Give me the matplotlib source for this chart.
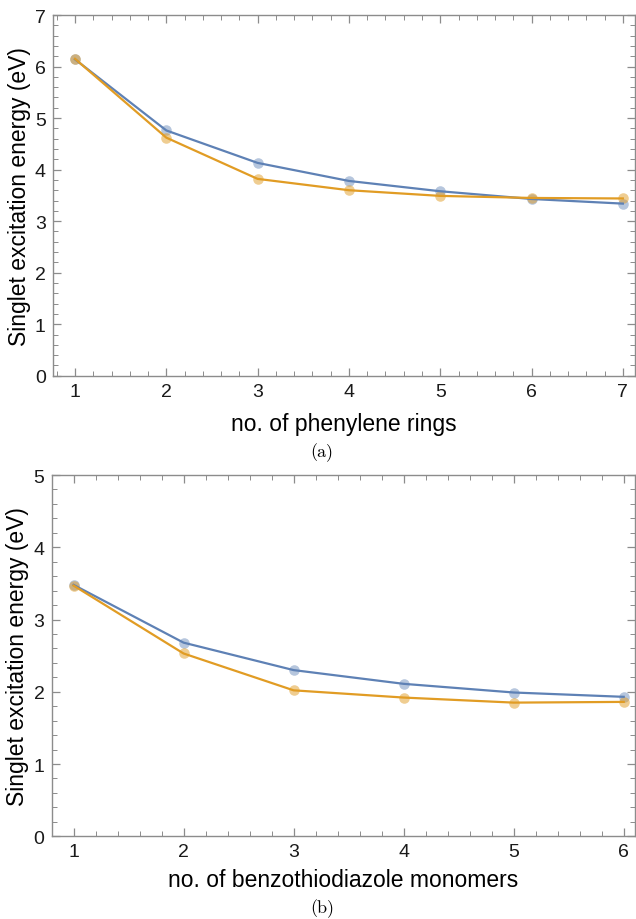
import matplotlib
matplotlib.use("Agg")
import matplotlib.pyplot as plt
from matplotlib.ticker import MultipleLocator

plt.rcParams['font.family'] = ['Liberation Sans', 'DejaVu Sans']

# Panel (a): oligophenylenes
rings = [1, 2, 3, 4, 5, 6, 7]
energy_a_blue = [6.14, 4.76, 4.13, 3.78, 3.58, 3.43, 3.34]
energy_a_orange = [6.15, 4.62, 3.82, 3.60, 3.49, 3.45, 3.44]

# Panel (b): benzothiadiazole oligomers
monomers = [1, 2, 3, 4, 5, 6]
energy_b_blue = [3.48, 2.68, 2.30, 2.11, 1.99, 1.93]
energy_b_orange = [3.47, 2.53, 2.02, 1.92, 1.85, 1.86]

BLUE = '#5E81B5'
ORANGE = '#E19C24'
FRAME = '#8c8c8c'

fig = plt.figure(figsize=(6.36, 9.2), dpi=100)
ax_a = fig.add_axes([0.0829, 0.5905, 0.9151, 0.3921])
ax_b = fig.add_axes([0.0810, 0.0899, 0.9170, 0.3927])


def draw(ax, x, yb, yo, xlim, ylim, xlabel, xpad):
    ax.plot(x, yb, 'o', ms=7.6, color=BLUE, alpha=0.45, mec='none', zorder=2)
    ax.plot(x, yo, 'o', ms=7.6, color=ORANGE, alpha=0.5, mec='none', zorder=2)
    ax.plot(x, yb, '-', lw=1.6, color=BLUE, zorder=3)
    ax.plot(x, yo, '-', lw=1.6, color=ORANGE, zorder=3)
    ax.set_xlim(*xlim)
    ax.set_ylim(*ylim)
    ax.xaxis.set_major_locator(MultipleLocator(1))
    ax.xaxis.set_minor_locator(MultipleLocator(0.2))
    ax.yaxis.set_major_locator(MultipleLocator(1))
    ax.yaxis.set_minor_locator(MultipleLocator(0.2))
    ax.tick_params(which='both', direction='in', top=True, right=True,
                   color=FRAME, labelsize=14, labelcolor='#1a1a1a')
    ax.tick_params(which='major', length=6, width=0.9, pad=5)
    ax.tick_params(which='minor', length=3.5, width=0.7)
    for s in ax.spines.values():
        s.set_color(FRAME)
        s.set_linewidth(1.0)
    ax.set_ylabel('Singlet excitation energy (eV)', fontsize=16.5, labelpad=3)
    ax.set_xlabel(xlabel, fontsize=16.5, labelpad=xpad)


draw(ax_a, rings, energy_a_blue, energy_a_orange, (0.756, 7.13), (0, 7),
     'no. of phenylene rings', 9)
draw(ax_b, monomers, energy_b_blue, energy_b_orange, (0.80, 6.10), (0, 5),
     'no. of benzothiodiazole monomers', 5.5)

fig.text(0.506, 1 - 453 / 920, '(a)', family=['cmr10', 'DejaVu Serif'],
         fontsize=13, ha='center', va='center')
fig.text(0.506, 1 - 909 / 920, '(b)', family=['cmr10', 'DejaVu Serif'],
         fontsize=13, ha='center', va='center')

fig.savefig('out.png', dpi=100)
